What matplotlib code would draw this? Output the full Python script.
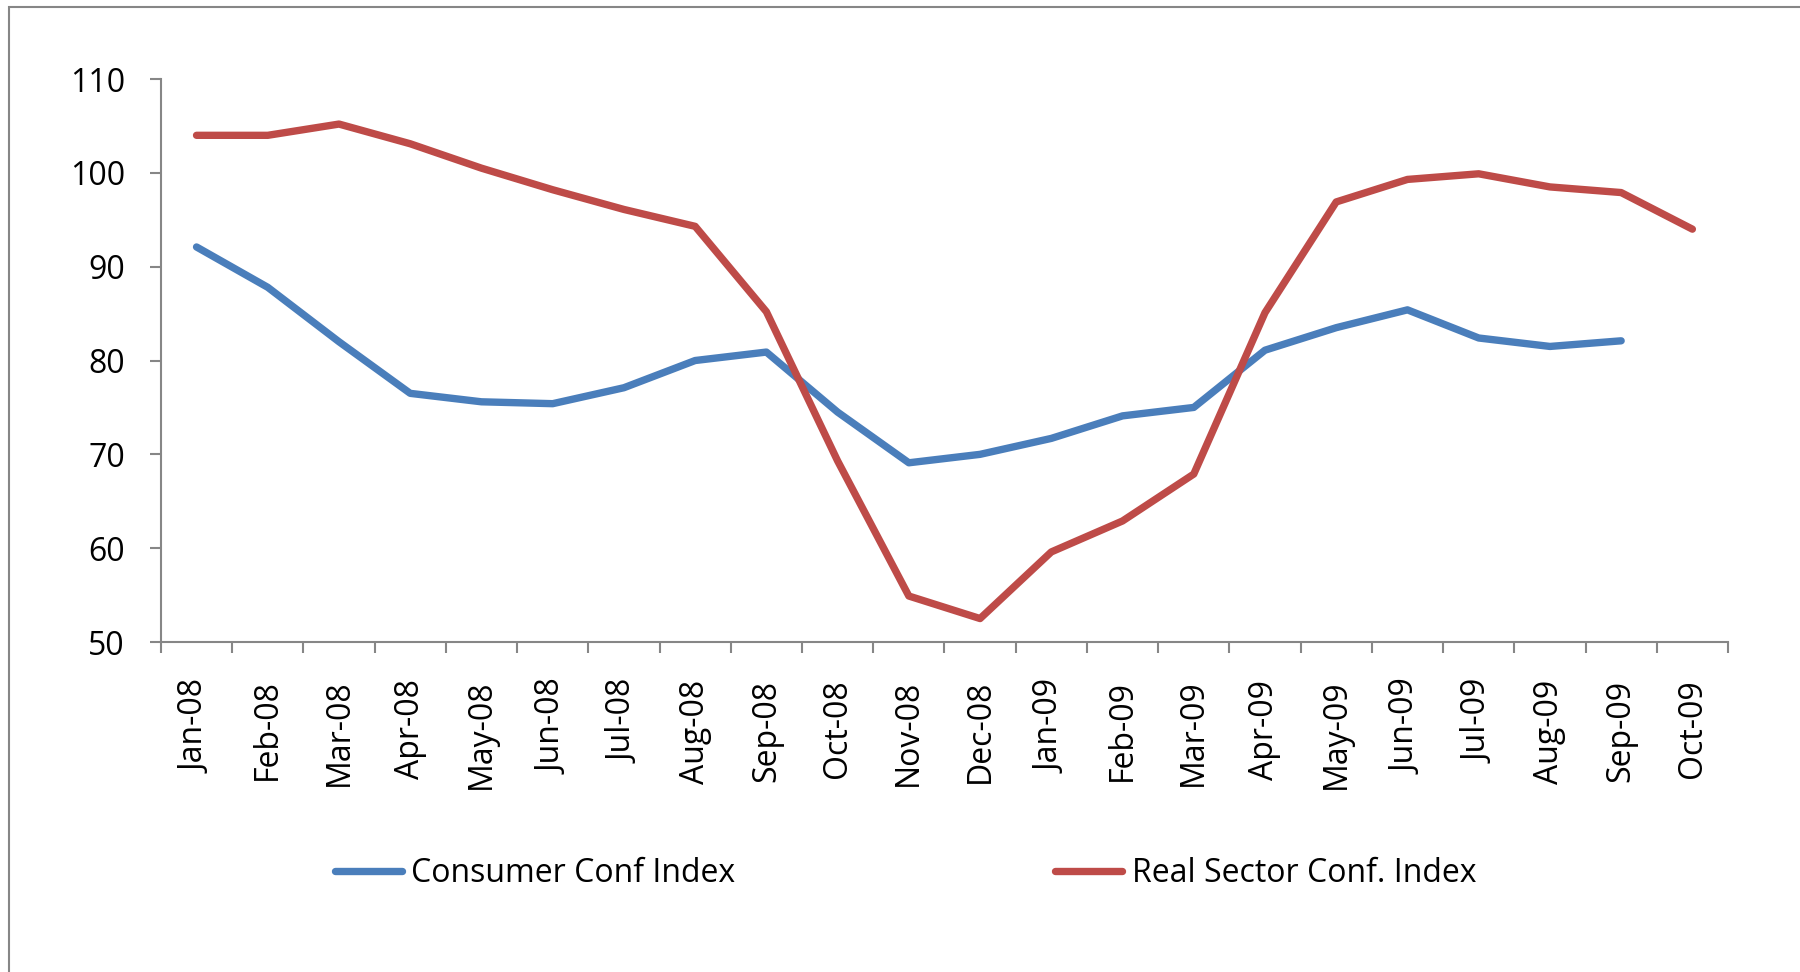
import matplotlib.pyplot as plt
from matplotlib.patches import Rectangle
import numpy as np

plt.rcParams['font.family'] = ['Open Sans', 'DejaVu Sans']

months = ['Jan-08', 'Feb-08', 'Mar-08', 'Apr-08', 'May-08', 'Jun-08', 'Jul-08',
          'Aug-08', 'Sep-08', 'Oct-08', 'Nov-08', 'Dec-08', 'Jan-09', 'Feb-09',
          'Mar-09', 'Apr-09', 'May-09', 'Jun-09', 'Jul-09', 'Aug-09', 'Sep-09',
          'Oct-09']

consumer = [92.1, 87.8, 82.0, 76.5, 75.6, 75.4, 77.1, 80.0, 80.9, 74.5, 69.1,
            70.0, 71.7, 74.1, 75.0, 81.1, 83.5, 85.4, 82.4, 81.5, 82.1, np.nan]
real_sector = [104.0, 104.0, 105.2, 103.1, 100.5, 98.2, 96.1, 94.3, 85.2, 69.3,
               54.9, 52.5, 59.6, 62.9, 67.9, 85.1, 96.9, 99.3, 99.9, 98.5, 97.9,
               94.0]

blue = '#4a7ebb'
red = '#be4b48'
grey = '#868686'

fig = plt.figure(figsize=(18, 9.72), dpi=100)
ax = fig.add_axes([0.0894, 0.3395, 0.8706, 0.5792])

x = np.arange(len(months))
ax.plot(x, consumer, color=blue, lw=5.3, solid_capstyle='round',
        solid_joinstyle='round', label='Consumer Conf Index', zorder=3)
ax.plot(x, real_sector, color=red, lw=5.3, solid_capstyle='round',
        solid_joinstyle='round', label='Real Sector Conf. Index', zorder=4)

ax.set_xlim(-0.5, len(months) - 0.5)
ax.set_ylim(50, 110)
ax.set_yticks(range(50, 111, 10))

ax.set_xticks(x)
ax.set_xticklabels(months, rotation=90, fontsize=23)
ax.set_xticks(np.arange(-0.5, len(months)), minor=True)
ax.tick_params(axis='x', which='major', length=0, pad=27)
ax.tick_params(axis='x', which='minor', length=8, width=1.5, color=grey,
               direction='out')
ax.tick_params(axis='y', length=8, width=1.5, color=grey, direction='out',
               labelsize=23, pad=18)

for side in ['top', 'right']:
    ax.spines[side].set_visible(False)
for side in ['left', 'bottom']:
    ax.spines[side].set_color(grey)
    ax.spines[side].set_linewidth(1.5)

fig.legend(loc='center left', bbox_to_anchor=(0.186, 0.101), ncol=2,
           frameon=False, fontsize=23, handlelength=2.1, handletextpad=0.3,
           columnspacing=10.0, borderpad=0, borderaxespad=0)

# outer chart border (cropped at right and bottom)
fig.patches.append(Rectangle((0.005, -0.1), 1.1, 1.0928, transform=fig.transFigure,
                             fill=False, edgecolor=grey, lw=1.5))

fig.savefig('out.png', dpi=100)
